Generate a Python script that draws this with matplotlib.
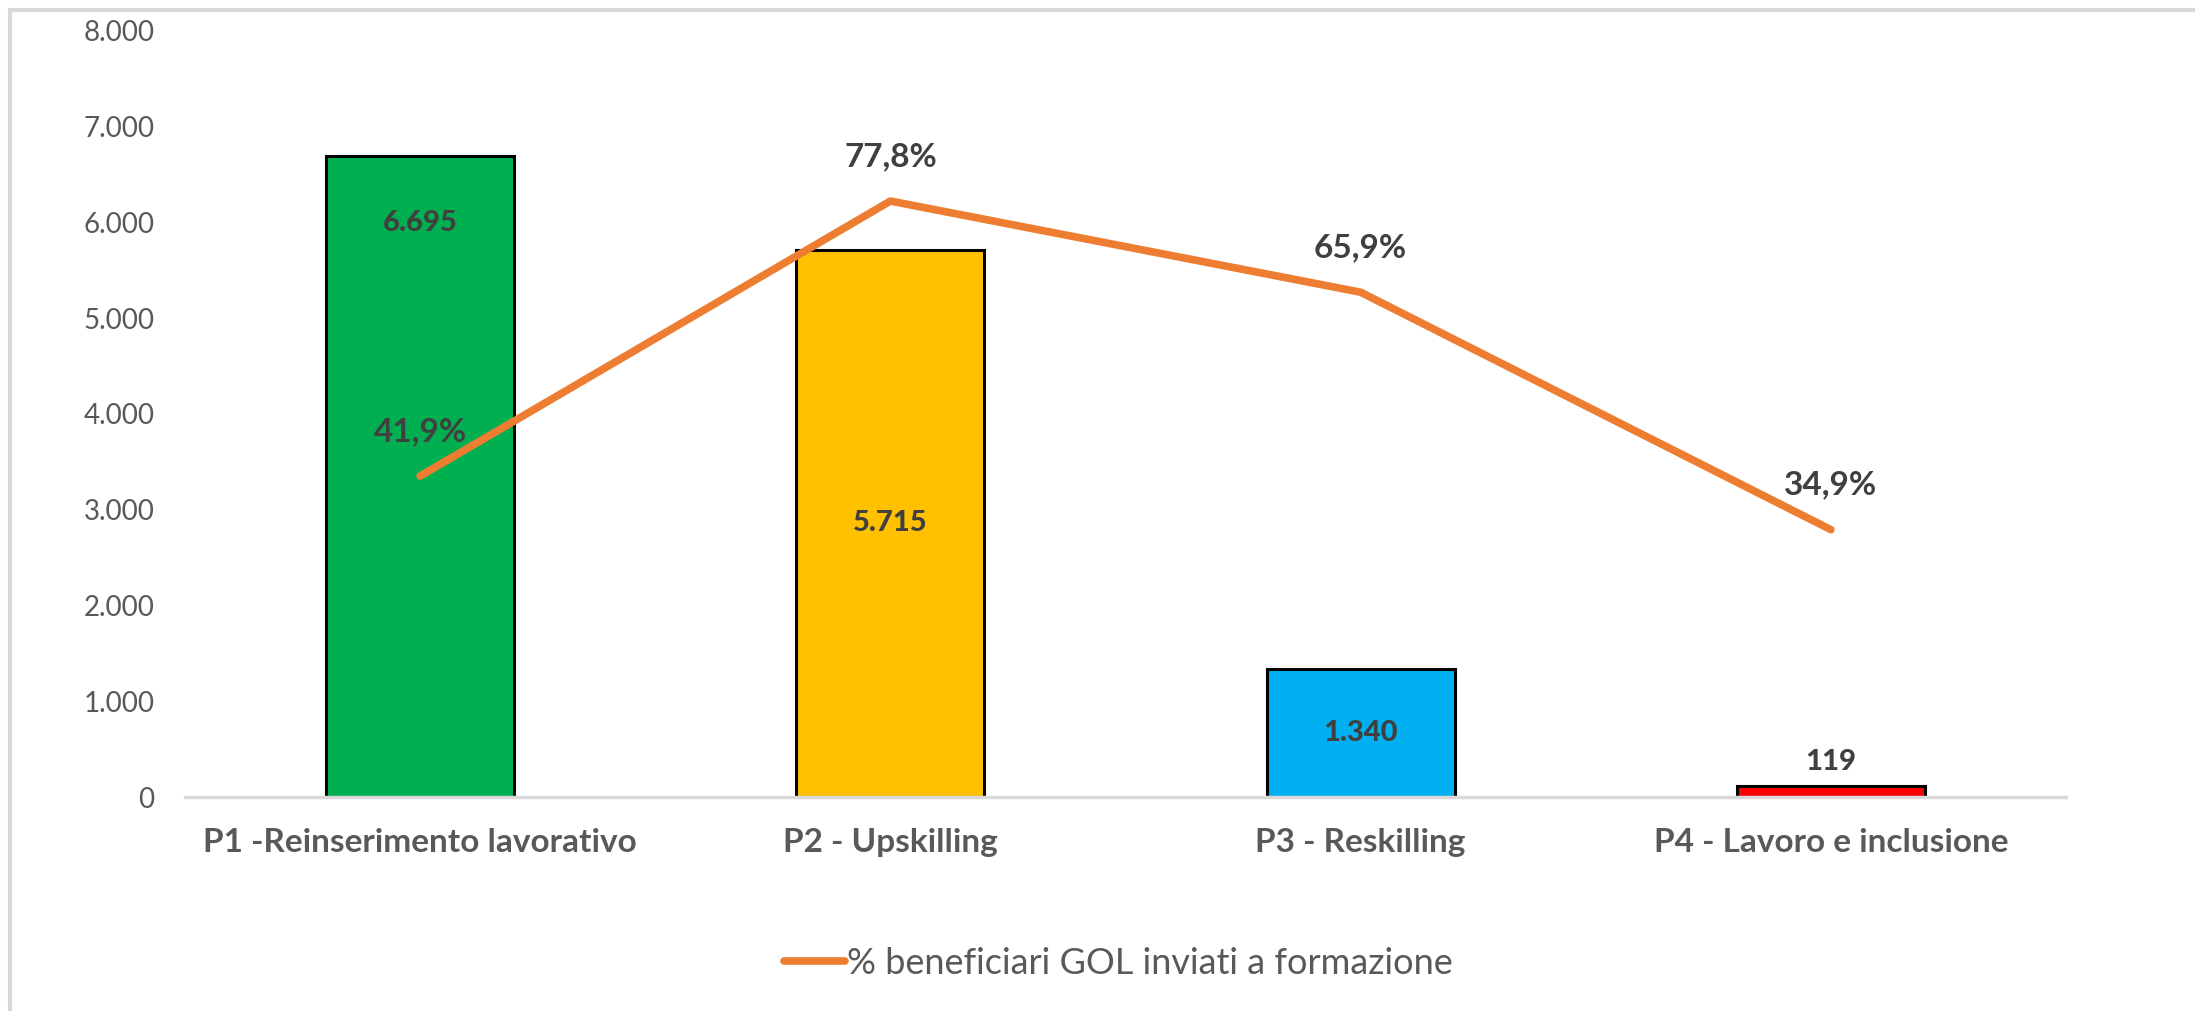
import matplotlib
matplotlib.use("Agg")
import matplotlib.pyplot as plt
from matplotlib.patches import Rectangle
from matplotlib.ticker import FuncFormatter

plt.rcParams['font.family'] = ['Lato', 'DejaVu Sans']

categories = ["P1 -Reinserimento lavorativo", "P2 - Upskilling", "P3 - Reskilling", "P4 - Lavoro e inclusione"]
bar_values = [6695, 5715, 1340, 119]
bar_colors = ["#00B050", "#FFC000", "#00B0F0", "#FF0000"]
pct_values = [0.419, 0.778, 0.659, 0.349]
line_label = "% beneficiari GOL inviati a formazione"
label_modes = ["inside_end", "center", "center", "outside_end"]
yticks = [0, 1000, 2000, 3000, 4000, 5000, 6000, 7000, 8000]

TXT = "#595959"
LBL = "#404040"

fig = plt.figure(figsize=(21.95, 10.11), dpi=100)
# chart frame (only top/left edges visible in the crop)
fig.patches.append(Rectangle((10/2195, -0.1), 1.2, (1011-10)/1011 + 0.1, transform=fig.transFigure,
                             fill=False, edgecolor="#D9D9D9", linewidth=3, zorder=0))

ax = fig.add_axes([185/2195, 214/1011, (2066-185)/2195, (797-31)/1011])
x = list(range(len(categories)))
bars = ax.bar(x, bar_values, width=0.4, color=bar_colors, edgecolor="black", linewidth=2.2, zorder=2)
ax.set_xlim(-0.5, len(categories) - 0.5)
ax.set_ylim(0, 8000)
ax.set_yticks(yticks)
ax.yaxis.set_major_formatter(FuncFormatter(lambda v, p: f"{int(v):,}".replace(",", ".")))
ax.set_xticks(x)
ax.set_xticklabels(categories, fontsize=24, fontweight="bold", color=TXT)
ax.tick_params(axis="y", length=0, pad=22, labelsize=20, labelcolor=TXT)
ax.tick_params(axis="x", length=0, pad=22)
for s in ["top", "right", "left"]:
    ax.spines[s].set_visible(False)
ax.spines["bottom"].set_color("#D9D9D9")
ax.spines["bottom"].set_linewidth(2.5)
ax.spines["bottom"].set_zorder(3)

for xi, v, mode in zip(x, bar_values, label_modes):
    txt = f"{v:,}".replace(",", ".")
    if mode == "inside_end":
        ax.annotate(txt, (xi, v), xytext=(0, -48), textcoords="offset points", ha="center", va="center",
                    fontsize=21, fontweight="black", color=LBL, zorder=5)
    elif mode == "center":
        ax.annotate(txt, (xi, v / 2), ha="center", va="center", fontsize=21, fontweight="black", color=LBL, zorder=5)
    else:
        ax.annotate(txt, (xi, v), xytext=(0, 17), textcoords="offset points", ha="center", va="center",
                    fontsize=21, fontweight="black", color=LBL, zorder=5)

ax2 = ax.twinx()
ax2.set_ylim(0, 1.0)
ax2.axis("off")
line, = ax2.plot(x, pct_values, color="#ED7D31", linewidth=5.5, solid_capstyle="round",
                 solid_joinstyle="round", label=line_label, zorder=4)
for xi, p in zip(x, pct_values):
    ax2.annotate(f"{p*100:.1f}%".replace(".", ","), (xi, p), xytext=(0, 32), textcoords="offset points",
                 ha="center", va="center", fontsize=24, fontweight="bold", color=LBL)

fig.legend(handles=[line], loc="center", bbox_to_anchor=(1118/2195, 48/1011), frameon=False,
           fontsize=26, labelcolor=TXT, handlelength=1.7, handletextpad=0.05)

fig.savefig("out.png", dpi=100)
